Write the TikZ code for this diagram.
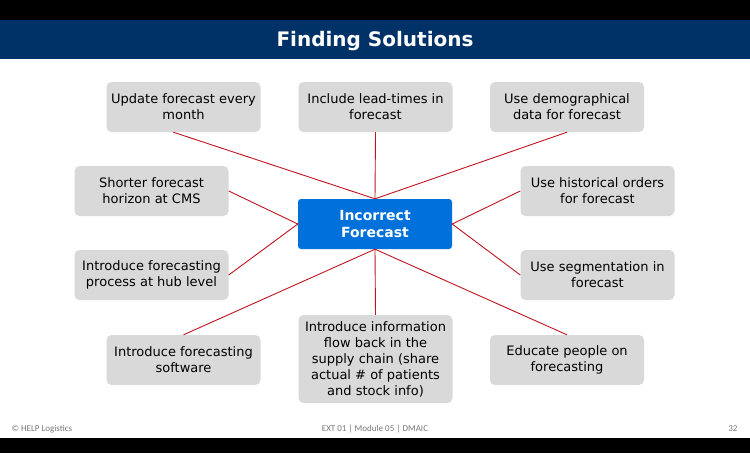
\documentclass[tikz,border=0pt]{standalone}
\usepackage{fontspec}
\setmainfont{DejaVu Sans}
\newfontfamily\footfont{Carlito}
\usepackage{tikz}
\usetikzlibrary{arrows.meta,positioning}
\definecolor{slidenavy}{RGB}{0,50,104}
\definecolor{coreblue}{RGB}{0,112,218}
\definecolor{ideagray}{RGB}{217,217,217}
\definecolor{spokered}{RGB}{192,20,30}
\definecolor{footgray}{RGB}{120,120,120}

\begin{document}
\begin{tikzpicture}[
  x=1pt, y=-1pt,
  idea/.style={rectangle, fill=ideagray, rounded corners=5pt, minimum width=154pt, minimum height=50pt, align=center, inner sep=2pt, font=\fontsize{13}{16}\selectfont},
  core/.style={rectangle, fill=coreblue, rounded corners=3pt, minimum width=154pt, minimum height=50pt, align=center, text=white, font=\fontsize{14}{17}\selectfont\bfseries},
  spoke/.style={spokered, line width=0.9pt},
  foot/.style={text=footgray, font=\footfont\fontsize{9}{10}\selectfont},
]
  % Slide frame
  \useasboundingbox (0,0) rectangle (750,453);
  \fill[white] (0,0) rectangle (750,453);
  \fill[black] (0,0) rectangle (750,20);
  \fill[black] (0,438) rectangle (750,453);
  \fill[slidenavy] (0,20) rectangle (750,59);
  \node[text=white, font=\fontsize{20}{23}\selectfont\bfseries] (title) at (375,41) {Finding Solutions};

  % Center
  \node[core] (problem) at (375,224) {Incorrect\\Forecast};

  % Top row
  \node[idea] (monthly) at (183.5,107) {Update forecast every\\month};
  \node[idea] (leadtime) at (375.5,107) {Include lead-times in\\forecast};
  \node[idea] (demo) at (567,107) {Use demographical\\data for forecast};

  % Sides
  \node[idea] (horizon) at (151.5,191) {Shorter forecast\\horizon at CMS};
  \node[idea] (hub) at (151.5,275) {Introduce forecasting\\process at hub level};
  \node[idea] (history) at (597.5,191) {Use historical orders\\for forecast};
  \node[idea] (segment) at (597.5,275) {Use segmentation in\\forecast};

  % Bottom row
  \node[idea] (software) at (183.5,360) {Introduce forecasting\\software};
  \node[idea, minimum height=88pt] (infoflow) at (375.5,359) {Introduce information\\flow back in the\\supply chain (share\\actual \# of patients\\and stock info)};
  \node[idea] (educate) at (567,360) {Educate people on\\forecasting};

  % Spokes
  \draw[spoke] (monthly.248) -- (problem.north);
  \draw[spoke] (leadtime.south) -- (problem.north);
  \draw[spoke] (demo.south) -- (problem.north);
  \draw[spoke] (horizon.east) -- (problem.west);
  \draw[spoke] (hub.east) -- (problem.west);
  \draw[spoke] (history.west) -- (problem.east);
  \draw[spoke] (segment.west) -- (problem.east);
  \draw[spoke] (software.north) -- (problem.south);
  \draw[spoke] (infoflow.north) -- (problem.south);
  \draw[spoke] (educate.north) -- (problem.south);

  % Footer
  \node[foot, anchor=west] (owner) at (8,429) {\textcopyright{} HELP Logistics};
  \node[foot] (module) at (375,429) {EXT 01 | Module 05 | DMAIC};
  \node[foot, anchor=east] (page) at (741,429) {32};
\end{tikzpicture}
\end{document}
